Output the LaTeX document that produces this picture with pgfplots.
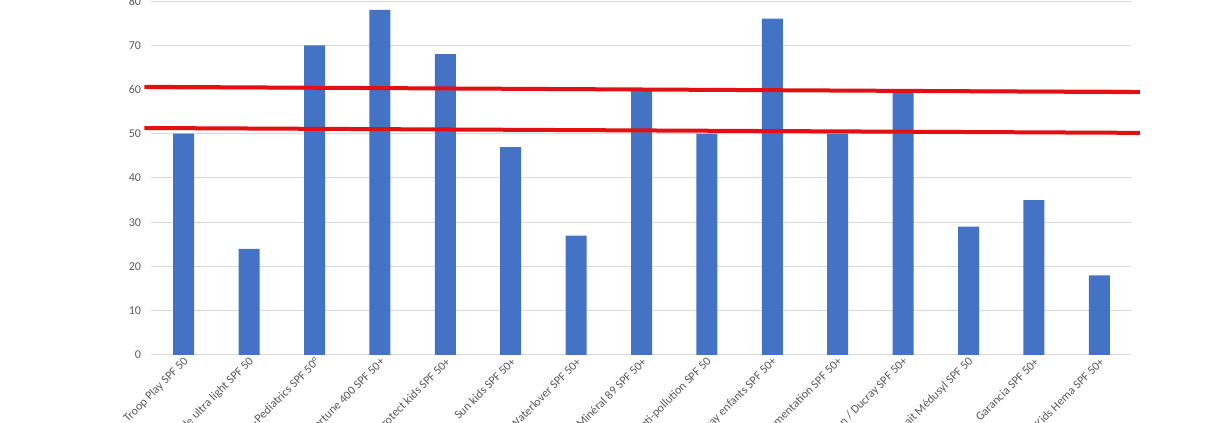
\documentclass[border=0pt]{standalone}
\usepackage{fontspec}
\setmainfont{Carlito}
\usepackage{pgfplots}
\pgfplotsset{compat=1.18}
\definecolor{barblue}{HTML}{4472C4}
\definecolor{txtgray}{HTML}{595959}
\definecolor{gridgray}{HTML}{D9D9D9}
\definecolor{redline}{HTML}{E30F13}
\begin{document}
\begin{tikzpicture}
\useasboundingbox (0,0) rectangle (907.5pt,317.25pt);
\clip (0,0) rectangle (907.5pt,317.25pt);
\begin{axis}[
  at={(113.25pt,51pt)}, anchor=south west,
  scale only axis, width=735.75pt, height=265.5pt,
  xmin=-0.5, xmax=14.5, ymin=0, ymax=80,
  ytick={0,10,...,80},
  xtick={0,...,14},
  xticklabels={Troop Play SPF 50, Fluide ultra light SPF 50, Dermo-Pediatrics SPF 50°, Fortune 400 SPF 50+, Protect kids SPF 50+, Sun kids SPF 50+, Waterlover SPF 50+, Minéral 89 SPF 50+, Anti-pollution SPF 50, Spray enfants SPF 50+, Pigmentation SPF 50+, Melascreen / Ducray SPF 50+, Lait Médusyl SPF 50, Garancia SPF 50+, Kids Hema SPF 50+},
  x tick label style={rotate=45, anchor=east, font=\fontsize{9}{10}\selectfont, text=txtgray, inner sep=1pt, yshift=-4pt},
  y tick label style={font=\fontsize{9}{10}\selectfont, text=txtgray, xshift=-4pt},
  /pgf/number format/assume math mode=true,
  major tick length=0pt,
  ymajorgrids, grid style={gridgray, line width=0.75pt},
  axis line style={draw=none},
  axis x line*=bottom,
  clip=false,
  ybar, bar width=15.75pt,
]
\addplot[fill=barblue, draw=none] coordinates {
(0,50) (1,24) (2,70) (3,78) (4,68) (5,47) (6,27) (7,60) (8,50) (9,76) (10,50) (11,60) (12,29) (13,35) (14,18)};
\addplot[sharp plot, redline, line width=3pt, forget plot] coordinates {(-0.6,60.6) (14.62,59.4)};
\addplot[sharp plot, redline, line width=3pt, forget plot] coordinates {(-0.6,51.3) (14.62,50.2)};
\end{axis}
\end{tikzpicture}
\end{document}
